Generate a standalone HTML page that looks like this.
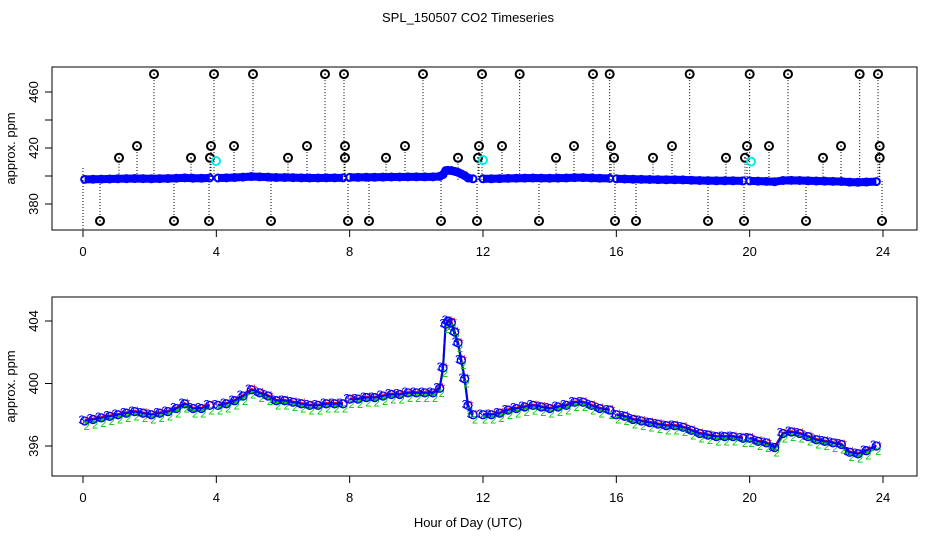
<!DOCTYPE html>
<html><head><meta charset="utf-8"><style>
body{margin:0;background:#fff}
svg{display:block;font-family:"Liberation Sans",sans-serif}
</style></head><body>
<svg id="c" width="936" height="540" viewBox="0 0 936 540">
<text x="468" y="22" font-size="13" text-anchor="middle">SPL_150507  CO2 Timeseries</text>
<text x="468" y="527" font-size="13" text-anchor="middle">Hour of Day (UTC)</text>
<g id="top"></g><g id="bot"></g>
</svg>
<script>
const hours=[0.05,0.3,0.55,0.8,1.05,1.3,1.55,1.8,2.05,2.3,2.55,2.8,3.05,3.3,3.55,3.8,4.05,4.3,4.55,4.8,5.05,5.3,5.55,5.8,6.05,6.3,6.55,6.8,7.05,7.3,7.55,7.8,8.0,8.25,8.5,8.75,9.0,9.25,9.5,9.75,10.0,10.25,10.5,10.7,10.8,10.88,10.95,11.05,11.15,11.25,11.35,11.45,11.55,11.7,12.0,12.25,12.5,12.75,13.0,13.25,13.5,13.75,14.0,14.25,14.5,14.75,15.0,15.25,15.5,15.8,16.0,16.25,16.5,16.75,17.0,17.25,17.5,17.75,18.0,18.25,18.5,18.75,19.0,19.25,19.5,19.8,20.0,20.25,20.5,20.75,21.0,21.25,21.5,21.75,22.0,22.25,22.5,22.75,23.0,23.25,23.5,23.8];
const co2=[397.6,397.7,397.8,397.9,398.0,398.1,398.2,398.1,398.0,398.1,398.2,398.4,398.7,398.4,398.4,398.6,398.6,398.7,398.9,399.2,399.6,399.4,399.2,398.9,398.9,398.8,398.7,398.6,398.6,398.7,398.7,398.7,399.0,399.0,399.1,399.1,399.2,399.3,399.3,399.4,399.4,399.4,399.4,399.7,401.0,403.8,404.0,403.9,403.3,402.6,401.5,400.3,398.6,398.0,398.0,398.0,398.1,398.3,398.4,398.5,398.6,398.5,398.4,398.5,398.6,398.8,398.8,398.6,398.4,398.3,398.0,397.9,397.7,397.6,397.5,397.4,397.3,397.3,397.2,397.0,396.8,396.7,396.6,396.6,396.6,396.5,396.5,396.3,396.2,395.9,396.8,396.9,396.8,396.6,396.4,396.3,396.2,396.1,395.6,395.5,395.7,396.0];
const gapsAfter=[3.8,7.8,11.7,15.8,19.8];
const spikeHours=[2.13,3.93,5.1,7.26,7.83,10.2,11.97,13.1,15.3,15.8,18.2,20.0,21.15,23.3,23.85,1.62,3.84,4.53,6.72,7.86,9.66,11.88,12.57,14.73,15.84,17.67,19.92,20.58,22.74,23.9,1.08,3.24,3.81,6.15,7.86,9.09,11.25,11.85,14.19,15.93,17.1,19.29,19.86,22.2,23.9,0.51,2.73,3.78,5.64,7.95,8.58,10.74,11.82,13.68,15.96,16.59,18.75,19.83,21.69,23.97];
const spikeVals=[472.8,472.8,472.8,472.8,472.8,472.8,472.8,472.8,472.8,472.8,472.8,472.8,472.8,472.8,472.8,421.4,421.4,421.4,421.4,421.4,421.4,421.4,421.4,421.4,421.4,421.4,421.4,421.4,421.4,421.4,413,413,413,413,413,413,413,413,413,413,413,413,413,413,413,367.9,367.9,367.9,367.9,367.9,367.9,367.9,367.9,367.9,367.9,367.9,367.9,367.9,367.9,367.9];
const calHours=[3.99,12.0,20.04];
const calVals=[410.7,411.4,410.3];
const xTicks=[0,4,8,12,16,20,24];
const topYTicks=[380,420,460];
const topYMinor=[380,400,420,440,460];
const botYTicks=[396,400,404];

const NS='http://www.w3.org/2000/svg';
function mk(p,tag,a){const e=document.createElementNS(NS,tag);for(const k in a)e.setAttribute(k,a[k]);p.appendChild(e);return e;}
const X=h=>83+h*(800/24);
const YT=v=>204-(v-380)*1.4;
const YB=v=>446-(v-396)*15.625;
function segs(){const s=[];let cur=[];hours.forEach((h,i)=>{cur.push(i);if(gapsAfter.includes(h)){s.push(cur);cur=[];}});if(cur.length)s.push(cur);return s;}

function frame(g,y0,y1,name){
  const r=mk(g,'rect',{x:52,y:y0,width:865,height:y1-y0,fill:'none',stroke:'#000','stroke-width':1});
  
  xTicks.forEach(t=>{
    const l=mk(g,'line',{x1:X(t),x2:X(t),y1:y1,y2:y1+7,stroke:'#000'});
    
    const tx=mk(g,'text',{x:X(t),y:y1+26,'font-size':13,'text-anchor':'middle'});tx.textContent=t;
    
  });
  const yl=mk(g,'text',{x:0,y:0,'font-size':13,'text-anchor':'middle',transform:`translate(15,${(y0+y1)/2}) rotate(-90)`});yl.textContent='approx. ppm';
  
}
function series(g,Y,name,top){
  segs().forEach(s=>{
    const pts=(off)=>s.map(i=>X(hours[i])+','+(Y(co2[i]+off))).join(' ');
    const a=mk(g,'polyline',{points:pts(0.05),fill:'none',stroke:'#e00','stroke-width':top?4:2});
    
    const b=mk(g,'polyline',{points:pts(-0.15),fill:'none',stroke:'#0c0','stroke-width':top?4:2});
    
    const c=mk(g,'polyline',{points:pts(0),fill:'none',stroke:'#00f','stroke-width':top?8:2});
    
  });
  hours.forEach((h,i)=>{
    if(top){
      const c=mk(g,'circle',{cx:X(h),cy:Y(co2[i]),r:3.5,fill:'none',stroke:'#00f','stroke-width':2});
      
    } else {
      const t2=mk(g,'text',{x:X(h)+2,y:Y(co2[i]-0.25)+5,'font-size':11,fill:'#0c0','text-anchor':'middle'});t2.textContent='2';
      
      const t1=mk(g,'text',{x:X(h)+3,y:Y(co2[i]+0.2)+4,'font-size':10,fill:'#e00','text-anchor':'middle'});t1.textContent='+';
      
      const c=mk(g,'circle',{cx:X(h),cy:Y(co2[i]),r:4,fill:'none',stroke:'#00f','stroke-width':1.3});
      
      const t3=mk(g,'text',{x:X(h)-3,y:Y(co2[i]+0.05)+4,'font-size':12,fill:'#00f','text-anchor':'middle'});t3.textContent='3';
      
    }
  });
}
// top panel
const gt=document.getElementById('top');
frame(gt,67,230,'top');
topYMinor.forEach(v=>{const l=mk(gt,'line',{x1:45,x2:52,y1:YT(v),y2:YT(v),stroke:'#000'});});
topYTicks.forEach(v=>{const t=mk(gt,'text',{x:0,y:0,'font-size':13,'text-anchor':'middle',transform:`translate(38,${YT(v)}) rotate(-90)`});t.textContent=v;});
const d0=mk(gt,'line',{x1:X(0),x2:X(0),y1:168,y2:230,stroke:'#000','stroke-dasharray':'1,2'});
spikeHours.forEach((h,i)=>{
  const l=mk(gt,'line',{x1:X(h),x2:X(h),y1:YT(spikeVals[i]),y2:YT(396.5),stroke:'#000','stroke-dasharray':'1,2'});
  
});
series(gt,YT,'top',true);
spikeHours.forEach((h,i)=>{
  const c=mk(gt,'circle',{cx:X(h),cy:YT(spikeVals[i]),r:4,fill:'none',stroke:'#000','stroke-width':2});
  
  const d=mk(gt,'circle',{cx:X(h),cy:YT(spikeVals[i]),r:0.8,fill:'#000'});
  
});
calHours.forEach((h,i)=>{
  const c=mk(gt,'circle',{cx:X(h),cy:YT(calVals[i]),r:4,fill:'none',stroke:'#0ee','stroke-width':2});
  
});
// bottom panel
const gb=document.getElementById('bot');
frame(gb,297,476,'bottom');
botYTicks.forEach(v=>{
  const l=mk(gb,'line',{x1:45,x2:52,y1:YB(v),y2:YB(v),stroke:'#000'});
  const t=mk(gb,'text',{x:0,y:0,'font-size':13,'text-anchor':'middle',transform:`translate(38,${YB(v)}) rotate(-90)`});t.textContent=v;
});
series(gb,YB,'bottom',false);
</script>
</body></html>
